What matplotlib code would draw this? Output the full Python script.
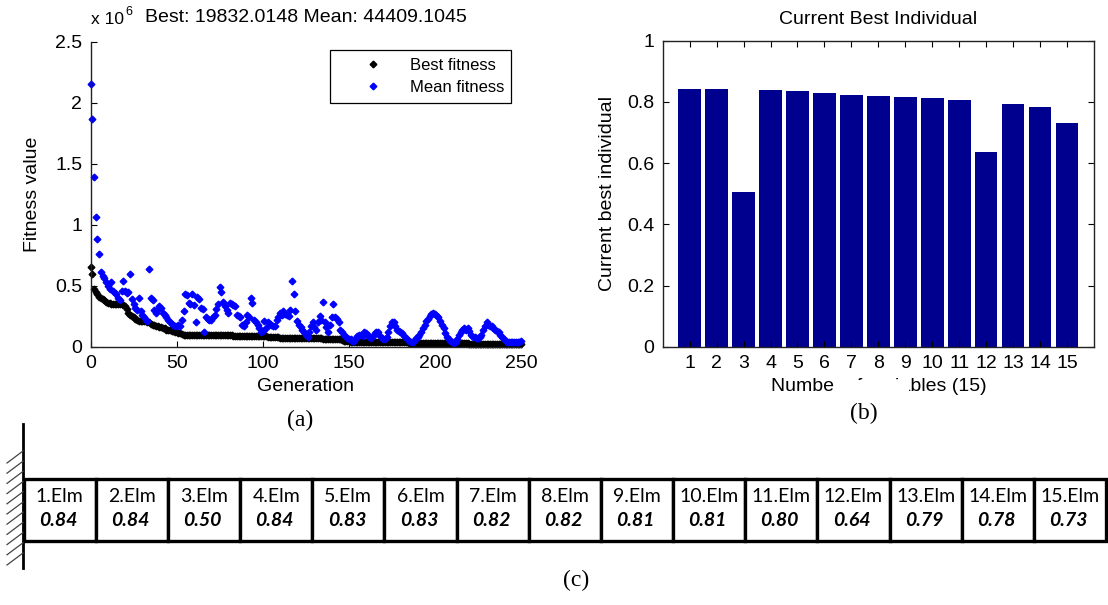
import numpy as np
import matplotlib
matplotlib.use("Agg")
import matplotlib.pyplot as plt
from matplotlib.patches import Rectangle
from matplotlib.lines import Line2D

# ---------------- data ----------------
generations = list(range(0, 251))

best_fitness = [
    0.65, 0.60, 0.47, 0.45, 0.43, 0.41, 0.40, 0.39, 0.38, 0.37,
    0.36, 0.36, 0.35, 0.35, 0.35, 0.35, 0.35, 0.35, 0.35, 0.34,
    0.33, 0.31, 0.28, 0.26, 0.25, 0.24, 0.23, 0.22, 0.21, 0.21,
    0.21, 0.21, 0.21, 0.20, 0.20, 0.19, 0.18, 0.18, 0.17, 0.17,
    0.16, 0.16, 0.15, 0.15, 0.14, 0.14, 0.14, 0.13, 0.13, 0.12,
    0.12, 0.11, 0.11, 0.105, 0.10, 0.10, 0.10, 0.10, 0.10, 0.10,
    0.10, 0.10, 0.10, 0.10, 0.10, 0.10, 0.10, 0.10, 0.10, 0.10,
    0.10, 0.10, 0.10, 0.10, 0.10, 0.10, 0.10, 0.095, 0.095, 0.095,
    0.095, 0.095, 0.095, 0.09, 0.09, 0.09, 0.09, 0.09, 0.09, 0.09,
    0.09, 0.09, 0.09, 0.09, 0.09, 0.09, 0.09, 0.09, 0.09, 0.085,
    0.085, 0.085, 0.085, 0.08, 0.08, 0.08, 0.08, 0.08, 0.08, 0.08,
    0.075, 0.075, 0.075, 0.075, 0.075, 0.075, 0.075, 0.075, 0.075, 0.075,
    0.075, 0.075, 0.075, 0.075, 0.075, 0.07, 0.07, 0.07, 0.07, 0.07,
    0.07, 0.07, 0.07, 0.07, 0.07, 0.065, 0.065, 0.065, 0.065, 0.065,
    0.065, 0.065, 0.06, 0.06, 0.06, 0.06, 0.055, 0.05, 0.05, 0.045,
    0.045, 0.04, 0.04, 0.04, 0.04, 0.04, 0.04, 0.04, 0.04, 0.04,
    0.04, 0.04, 0.035, 0.035, 0.035, 0.035, 0.035, 0.035, 0.035, 0.035,
    0.035, 0.035, 0.035, 0.035, 0.035, 0.035, 0.035, 0.035, 0.035, 0.035,
    0.035, 0.035, 0.035, 0.035, 0.035, 0.03, 0.03, 0.03, 0.03, 0.03,
    0.03, 0.03, 0.03, 0.03, 0.03, 0.03, 0.03, 0.03, 0.03, 0.03,
    0.03, 0.03, 0.03, 0.03, 0.03, 0.03, 0.03, 0.03, 0.03, 0.03,
    0.028, 0.028, 0.028, 0.028, 0.028, 0.028, 0.028, 0.028, 0.028, 0.028,
    0.025, 0.025, 0.025, 0.025, 0.025, 0.025, 0.025, 0.025, 0.025, 0.025,
    0.025, 0.025, 0.025, 0.025, 0.025, 0.022, 0.022, 0.022, 0.022, 0.022,
    0.022, 0.022, 0.022, 0.022, 0.022, 0.02, 0.02, 0.02, 0.02, 0.02,
    0.0198,
]

mean_fitness = [
    2.15, 1.87, 1.39, 1.06, 0.88, 0.76, 0.61, 0.58, 0.56, 0.53,
    0.50, 0.47, 0.53, 0.46, 0.44, 0.43, 0.40, 0.38, 0.46, 0.54,
    0.46, 0.44, 0.45, 0.60, 0.39, 0.35, 0.32, 0.30, 0.40, 0.29,
    0.26, 0.24, 0.22, 0.21, 0.64, 0.40, 0.38, 0.30, 0.28, 0.31,
    0.33, 0.32, 0.28, 0.26, 0.24, 0.22, 0.20, 0.19, 0.18, 0.17,
    0.17, 0.18, 0.17, 0.22, 0.29, 0.43, 0.42, 0.36, 0.35, 0.43,
    0.34, 0.20, 0.41, 0.39, 0.32, 0.31, 0.12, 0.24, 0.23, 0.22,
    0.22, 0.24, 0.26, 0.31, 0.35, 0.49, 0.45, 0.37, 0.33, 0.30,
    0.28, 0.36, 0.35, 0.34, 0.33, 0.26, 0.25, 0.24, 0.18, 0.17,
    0.20, 0.26, 0.24, 0.40, 0.36, 0.22, 0.20, 0.18, 0.15, 0.12,
    0.13, 0.21, 0.15, 0.20, 0.19, 0.18, 0.17, 0.17, 0.22, 0.24,
    0.28, 0.26, 0.29, 0.27, 0.26, 0.25, 0.30, 0.54, 0.43, 0.29,
    0.21, 0.18, 0.16, 0.14, 0.12, 0.10, 0.08, 0.12, 0.17, 0.20,
    0.16, 0.14, 0.20, 0.25, 0.22, 0.37, 0.20, 0.16, 0.12, 0.18,
    0.24, 0.35, 0.24, 0.23, 0.20, 0.14, 0.12, 0.10, 0.09, 0.07,
    0.06, 0.06, 0.05, 0.05, 0.07, 0.09, 0.10, 0.10, 0.09, 0.12,
    0.11, 0.10, 0.08, 0.07, 0.09, 0.11, 0.12, 0.12, 0.09, 0.07,
    0.06, 0.06, 0.08, 0.12, 0.17, 0.20, 0.20, 0.17, 0.14, 0.13,
    0.12, 0.11, 0.09, 0.07, 0.06, 0.05, 0.04, 0.04, 0.05, 0.07,
    0.08, 0.10, 0.12, 0.15, 0.18, 0.21, 0.23, 0.25, 0.27, 0.28,
    0.27, 0.25, 0.24, 0.21, 0.18, 0.15, 0.11, 0.08, 0.06, 0.05,
    0.04, 0.03, 0.04, 0.06, 0.10, 0.12, 0.14, 0.15, 0.14, 0.15,
    0.13, 0.10, 0.08, 0.08, 0.07, 0.07, 0.08, 0.10, 0.14, 0.17,
    0.20, 0.18, 0.17, 0.17, 0.15, 0.14, 0.13, 0.12, 0.10, 0.08,
    0.06, 0.05, 0.04, 0.04, 0.04, 0.04, 0.04, 0.04, 0.04, 0.04,
    0.0444,
]

best_value_text = "19832.0148"
mean_value_text = "44409.1045"

variables = list(range(1, 16))
best_individual = [0.841, 0.841, 0.504, 0.838, 0.837, 0.828, 0.824, 0.819,
                   0.815, 0.814, 0.806, 0.636, 0.792, 0.783, 0.732]

element_labels = [f"{i}.Elm" for i in range(1, 16)]
element_values = ["0.84", "0.84", "0.50", "0.84", "0.83", "0.83", "0.82", "0.82",
                  "0.81", "0.81", "0.80", "0.64", "0.79", "0.78", "0.73"]

fit_yticks = [0, 0.5, 1, 1.5, 2, 2.5]
fit_yticklabels = ["0", "0.5", "1", "1.5", "2", "2.5"]
gen_ticks = [0, 50, 100, 150, 200, 250]
ind_yticks = [0, 0.2, 0.4, 0.6, 0.8, 1]
ind_yticklabels = ["0", "0.2", "0.4", "0.6", "0.8", "1"]

# ---------------- figure ----------------
W, H = 1108, 605
fig = plt.figure(figsize=(W / 100, H / 100), dpi=100)
SANS = "Liberation Sans"
SERIF = "Liberation Serif"
CAL = "Lato"

def fx(px):
    return px / W

def fy(py):
    return 1 - py / H

# ---- (a) fitness plot ----
axl, axr, axt, axb = 90.6, 521.0, 41.7, 346.7
ax1 = fig.add_axes([fx(axl), fy(axb), fx(axr - axl), (axb - axt) / H])
ax1.plot(generations, best_fitness, linestyle="none", marker="D", ms=3.4,
         color="black", mec="black", label="Best fitness", clip_on=False)
ax1.plot(generations, mean_fitness, linestyle="none", marker="D", ms=3.4,
         color="#0000FF", mec="#0000FF", label="Mean fitness", clip_on=False)
ax1.set_xlim(0, 250)
ax1.set_ylim(0, 2.5)
ax1.set_xticks(gen_ticks)
ax1.set_xticklabels([str(t) for t in gen_ticks])
ax1.set_yticks(fit_yticks)
ax1.set_yticklabels(fit_yticklabels)
for s in ("top", "right"):
    ax1.spines[s].set_visible(False)
for s in ("left", "bottom"):
    ax1.spines[s].set_linewidth(1.0)
    ax1.spines[s].set_color("#222222")
ax1.tick_params(direction="in", length=4, width=0.8, labelsize=14, pad=6)
for lab in ax1.get_xticklabels() + ax1.get_yticklabels():
    lab.set_fontfamily(SANS)
ax1.set_xlabel("Generation", fontsize=14, family=SANS, labelpad=4)
ax1.set_ylabel("Fitness value", fontsize=14, family=SANS, labelpad=10)

leg = ax1.legend(loc="upper right", bbox_to_anchor=(fx(511.4), fy(50)),
                 bbox_transform=fig.transFigure, frameon=True, fancybox=False,
                 edgecolor="black", framealpha=1, borderpad=0.45,
                 handlelength=4.2, handletextpad=0.1, labelspacing=0.45,
                 numpoints=1, prop={"family": SANS, "size": 12},
                 borderaxespad=0)
leg.get_frame().set_linewidth(0.9)

fig.text(fx(305.8), fy(18), f"Best: {best_value_text} Mean: {mean_value_text}",
         ha="center", va="center", fontsize=14, family=SANS)
fig.text(fx(91), fy(20), "x 10", ha="left", va="center", fontsize=12.5, family=SANS)
fig.text(fx(125.5), fy(12), "6", ha="left", va="center", fontsize=9, family=SANS)

# ---- (b) best individual bar chart ----
bl, br, bt, bb = 662.7, 1094.0, 40.7, 346.7
ax2 = fig.add_axes([fx(bl), fy(bb), fx(br - bl), (bb - bt) / H])
ax2.bar(variables, best_individual, width=0.84, color="#00008F", edgecolor="none")
ax2.set_xlim(0, 16)
ax2.set_ylim(0, 1)
ax2.set_xticks(variables)
ax2.set_xticklabels([str(v) for v in variables])
ax2.set_yticks(ind_yticks)
ax2.set_yticklabels(ind_yticklabels)
ax2.tick_params(direction="in", length=4, width=0.8, labelsize=14, pad=6,
                top=True, right=True)
for s in ax2.spines.values():
    s.set_linewidth(1.0)
    s.set_color("#222222")
for lab in ax2.get_xticklabels() + ax2.get_yticklabels():
    lab.set_fontfamily(SANS)
ax2.set_xlabel("Number of variables (15)", fontsize=14, family=SANS, labelpad=4)
ax2.set_ylabel("Current best individual", fontsize=14, family=SANS, labelpad=8)
fig.text(fx((bl + br) / 2), fy(19), "Current Best Individual", ha="center",
         va="center", fontsize=14, family=SANS)

# ---- overlay for diagram and captions ----
ov = fig.add_axes([0, 0, 1, 1], zorder=5)
ov.set_xlim(0, W)
ov.set_ylim(H, 0)
ov.axis("off")
ov.patch.set_visible(False)

# white patch partially hiding the x label of (b) (as in the source)
ov.add_patch(Rectangle((834, 380), 75, 20, facecolor="white", edgecolor="none", zorder=10))

ov.text(300, 420, "(a)", ha="center", va="center", fontsize=17, family=SERIF, zorder=11)
ov.text(864, 413, "(b)", ha="center", va="center", fontsize=17, family=SERIF, zorder=11)
ov.text(576, 580, "(c)", ha="center", va="center", fontsize=17, family=SERIF, zorder=11)

# wall
wall_x = 23.0
ov.add_line(Line2D([wall_x, wall_x], [424, 568], color="black", lw=2.0))
for k in range(11):
    y0 = 452 + k * 10.2
    ov.add_line(Line2D([7, wall_x], [y0 + 11, y0 - 1], color="#444444", lw=0.9))

# beam cells
beam_top, beam_bot = 479, 541
cell_w = (1106.0 - 23.6) / len(element_labels)
for i, (lab, val) in enumerate(zip(element_labels, element_values)):
    x0 = 23.6 + i * cell_w
    ov.add_patch(Rectangle((x0, beam_top), cell_w, beam_bot - beam_top,
                           facecolor="white", edgecolor="black", lw=2.4))
    cx = x0 + cell_w / 2
    ov.text(cx, 497, lab, ha="center", va="center", fontsize=14, family=CAL)
    ov.text(cx - 1.5, 521, val, ha="center", va="center", fontsize=14, family=CAL,
            fontweight="bold", fontstyle="italic")

fig.savefig("out.png", dpi=100)
